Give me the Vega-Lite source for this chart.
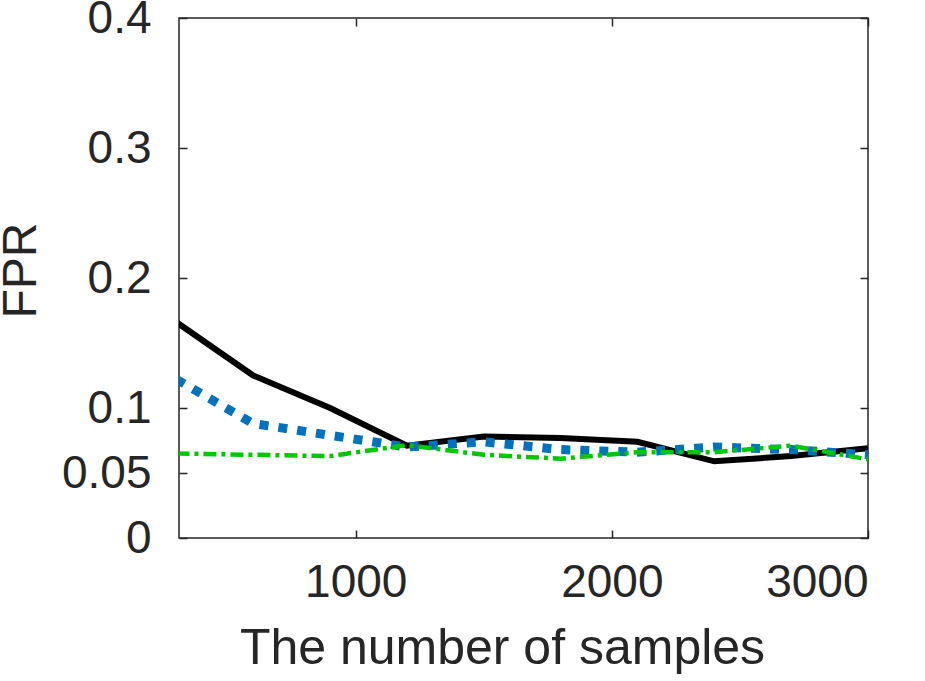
{
  "$schema": "https://vega.github.io/schema/vega-lite/v6.json",
  "width": 689,
  "height": 520,
  "autosize": "none",
  "padding": {"left": 179, "top": 18, "right": 57, "bottom": 143},
  "background": "white",
  "config": {
    "font": "Liberation Sans",
    "view": {"stroke": "#262626", "strokeWidth": 1.5},
    "axis": {
      "domain": false,
      "grid": false,
      "labelFontSize": 46,
      "labelColor": "#262626",
      "labelFont": "Liberation Sans",
      "titleFontSize": 48,
      "titleFont": "Liberation Sans",
      "titleFontWeight": "normal",
      "titleColor": "#262626",
      "tickColor": "#262626",
      "tickWidth": 1.5,
      "tickSize": -8
    }
  },
  "data": {
    "values": [
      {"n": 300, "series": "A", "fpr": 0.166},
      {"n": 600, "series": "A", "fpr": 0.125},
      {"n": 900, "series": "A", "fpr": 0.100},
      {"n": 1200, "series": "A", "fpr": 0.071},
      {"n": 1500, "series": "A", "fpr": 0.078},
      {"n": 1800, "series": "A", "fpr": 0.077},
      {"n": 2100, "series": "A", "fpr": 0.074},
      {"n": 2400, "series": "A", "fpr": 0.059},
      {"n": 2700, "series": "A", "fpr": 0.063},
      {"n": 3000, "series": "A", "fpr": 0.069},
      {"n": 300, "series": "B", "fpr": 0.122},
      {"n": 600, "series": "B", "fpr": 0.088},
      {"n": 900, "series": "B", "fpr": 0.079},
      {"n": 1200, "series": "B", "fpr": 0.070},
      {"n": 1500, "series": "B", "fpr": 0.074},
      {"n": 1800, "series": "B", "fpr": 0.068},
      {"n": 2100, "series": "B", "fpr": 0.066},
      {"n": 2400, "series": "B", "fpr": 0.070},
      {"n": 2700, "series": "B", "fpr": 0.068},
      {"n": 3000, "series": "B", "fpr": 0.064},
      {"n": 300, "series": "C", "fpr": 0.065},
      {"n": 600, "series": "C", "fpr": 0.064},
      {"n": 900, "series": "C", "fpr": 0.063},
      {"n": 1200, "series": "C", "fpr": 0.0715},
      {"n": 1500, "series": "C", "fpr": 0.064},
      {"n": 1800, "series": "C", "fpr": 0.061},
      {"n": 2100, "series": "C", "fpr": 0.066},
      {"n": 2400, "series": "C", "fpr": 0.066},
      {"n": 2700, "series": "C", "fpr": 0.071},
      {"n": 3000, "series": "C", "fpr": 0.0605}
    ]
  },
  "encoding": {
    "x": {
      "field": "n",
      "type": "quantitative",
      "scale": {"domain": [310, 3000], "nice": false, "zero": false}
    },
    "y": {
      "field": "fpr",
      "type": "quantitative",
      "scale": {"domain": [0, 0.4], "nice": false}
    }
  },
  "layer": [
    {
      "transform": [{"filter": "datum.series == 'A'"}],
      "mark": {"type": "line", "clip": true, "color": "black", "strokeWidth": 6, "strokeJoin": "miter"},
      "encoding": {
        "x": {
          "field": "n",
          "type": "quantitative",
          "axis": {"values": [1000, 2000, 3000], "format": "d", "title": "The number of samples", "titleFontSize": 50, "labelPadding": 30, "titlePadding": 18, "titleX": 323, "titleAlign": "center"}
        },
        "y": {
          "field": "fpr",
          "type": "quantitative",
          "axis": {"values": [0, 0.05, 0.1, 0.2, 0.3, 0.4], "format": "~g", "title": "FPR", "labelPadding": 36, "titlePadding": 16, "titleY": 252, "titleAlign": "center"}
        }
      }
    },
    {
      "transform": [{"filter": "datum.series == 'B'"}],
      "mark": {"type": "line", "clip": true, "color": "#0072BD", "strokeWidth": 9, "strokeDash": [9, 10], "strokeCap": "butt"},
      "encoding": {
        "x": {"field": "n", "type": "quantitative", "axis": null},
        "y": {"field": "fpr", "type": "quantitative", "axis": null}
      }
    },
    {
      "transform": [{"filter": "datum.series == 'C'"}],
      "mark": {"type": "line", "clip": true, "color": "#00C800", "strokeWidth": 4.5, "strokeDash": [13, 5, 4, 5], "strokeCap": "butt"},
      "encoding": {
        "x": {"field": "n", "type": "quantitative", "axis": null},
        "y": {"field": "fpr", "type": "quantitative", "axis": null}
      }
    },
    {
      "transform": [{"filter": "datum.series == 'A'"}],
      "mark": {"type": "line", "opacity": 0},
      "encoding": {
        "x": {
          "field": "n",
          "type": "quantitative",
          "axis": {"orient": "top", "values": [1000, 2000, 3000], "labels": false, "title": null}
        },
        "y": {
          "field": "fpr",
          "type": "quantitative",
          "axis": {"orient": "right", "values": [0, 0.05, 0.1, 0.2, 0.3, 0.4], "labels": false, "title": null}
        }
      }
    }
  ],
  "resolve": {"axis": {"x": "independent", "y": "independent"}}
}
